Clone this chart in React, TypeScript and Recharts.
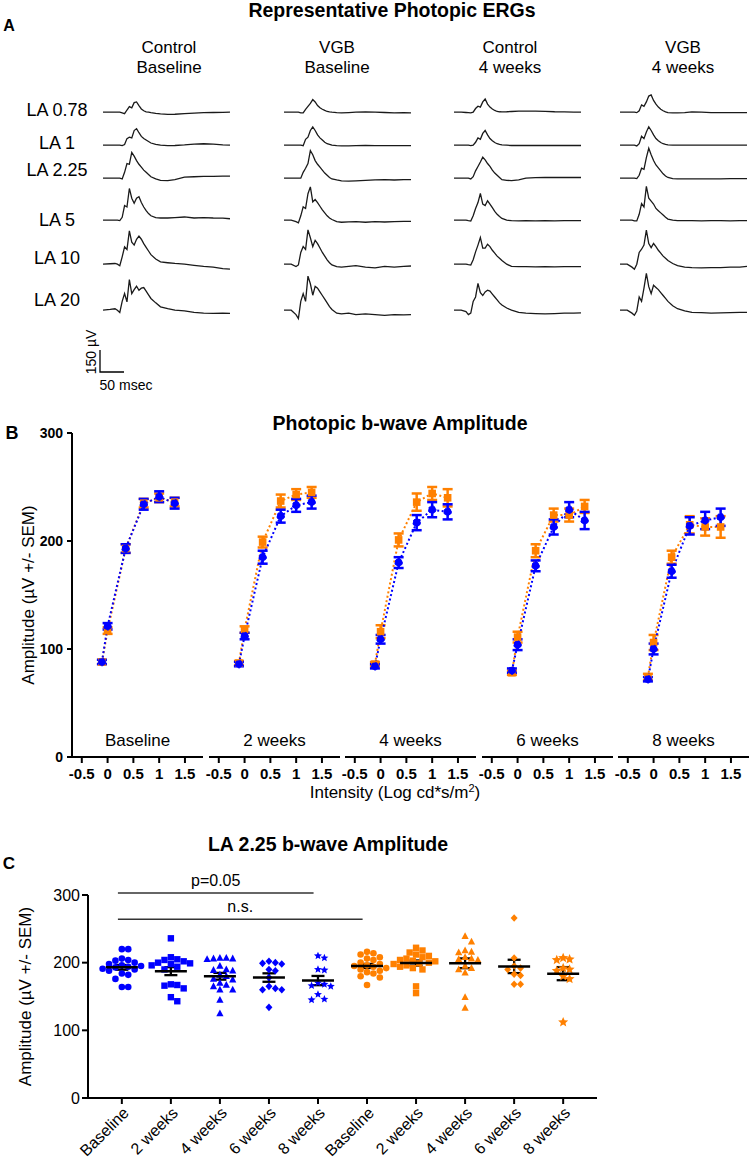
import React from "react";
import {
  LineChart,
  Line,
  ComposedChart,
  Scatter,
  ErrorBar,
  XAxis,
  YAxis,
  ReferenceLine,
} from "recharts";

const BLUE = "#0000ff";
const ORANGE = "#ff8000";
const FONT = "'Liberation Sans', Arial, Helvetica, sans-serif";

// ---------- A: representative photopic ERG traces (µV, time in ms) ----------
const ergColumnTitles = [
  ["Control", "Baseline"],
  ["VGB", "Baseline"],
  ["Control", "4 weeks"],
  ["VGB", "4 weeks"],
];
const flashLabels = ["LA 0.78", "LA 1", "LA 2.25", "LA 5", "LA 10", "LA 20"];
const traceTimes = [0, 15, 25, 30, 35, 40, 45, 50, 55, 60, 65, 70, 75, 80, 85, 90, 95, 100, 110, 120, 135, 150, 170, 190, 210, 230, 250, 265];

const ergControlBaseline = [
  [0, 0, 0, 0, 0, -5, -10, 15, 38, 30, 65, 70, 45, 22, 10, 3, 0, -3, -8, -12, -15, -14, -10, -6, -3, -2, -1, 0],
  [0, 0, 0, 0, 0, -3, 5, 45, 55, 50, 100, 113, 85, 60, 45, 35, 25, 15, 5, 0, -3, -2, 2, 8, 10, 8, 2, 0],
  [0, 0, 0, 0, 0, -5, 40, 100, 95, 175, 150, 120, 95, 75, 55, 40, 25, 10, -5, -15, -16, -10, 8, 10, 12, 12, 14, 14],
  [0, 0, 0, 0, -3, 20, 100, 90, 216, 150, 115, 150, 160, 120, 90, 65, 45, 30, 18, 15, 15, 18, 22, 15, 18, 15, 14, 10],
  [0, 3, 5, 0, -10, 50, 118, 100, 227, 150, 130, 170, 191, 170, 140, 115, 90, 65, 35, 16, 10, 5, 0, -8, -15, -20, -30, -34],
  [0, 5, 10, 0, -15, 60, 113, 57, 209, 113, 140, 163, 136, 150, 154, 130, 105, 80, 50, 23, 10, 0, -5, -15, -20, -22, -20, -22],
];
const ergVgbBaseline = [
  [0, 0, 0, 0, -5, -5, 20, 40, 60, 86, 70, 45, 30, 20, 12, 5, 2, 0, -3, -5, -3, 0, 2, 0, -2, -4, -3, -5],
  [0, 0, 0, 0, 0, -3, 40, 55, 100, 125, 100, 70, 50, 35, 20, 10, 5, 0, -3, -5, -5, -3, -2, -3, -3, -3, -3, -3],
  [0, 0, 0, 0, 0, 40, 68, 100, 188, 160, 120, 95, 75, 55, 35, 20, 5, -5, -12, -18, -20, -18, -15, -12, -10, -12, -10, -10],
  [0, 0, -10, -18, 30, 91, 80, 180, 227, 125, 141, 120, 95, 70, 50, 30, 15, 5, -10, -14, -12, -10, -14, -10, -12, -10, -8, -8],
  [0, 0, -16, -5, 80, 120, 100, 234, 180, 120, 163, 140, 110, 80, 55, 30, 10, -5, -16, -20, -15, -10, -20, -25, -15, -20, -15, -12],
  [0, 0, -30, -57, 60, 113, 60, 232, 180, 102, 163, 150, 125, 100, 75, 50, 25, 5, -20, -25, -20, -30, -25, -30, -35, -30, -32, -30],
];
const ergControl4wk = [
  [0, 0, -2, -3, -5, 0, 25, 41, 35, 70, 90, 55, 35, 22, 12, 5, 3, 2, 3, 5, 8, 8, 8, 6, 3, 2, 0, 0],
  [0, 0, 0, 0, -3, 0, 20, 50, 40, 80, 100, 70, 45, 30, 18, 10, 5, 2, 0, -2, -2, -2, -2, -2, -2, -2, -2, -2],
  [0, 0, 0, 0, -5, 10, 50, 80, 110, 143, 125, 100, 80, 55, 35, 20, 5, -10, -15, -16, -12, 0, 4, 5, 5, 5, 5, 5],
  [0, 0, 0, -3, -5, 30, 80, 120, 182, 110, 100, 132, 110, 85, 60, 40, 25, 12, 0, -3, -5, -3, -5, -3, -5, -3, -3, -3],
  [0, 0, 0, -3, -5, 30, 84, 130, 182, 110, 110, 136, 120, 95, 75, 55, 40, 25, 0, -15, -16, -16, -18, -16, -18, -16, -16, -16],
  [0, 0, -10, -30, -20, 60, 90, 182, 120, 100, 125, 136, 130, 110, 90, 70, 50, 35, 15, 0, -15, -20, -23, -25, -23, -20, -20, -18],
];
const ergVgb4wk = [
  [0, 0, 0, 0, -3, 10, 50, 40, 70, 110, 118, 80, 55, 35, 20, 10, 2, -3, -5, -5, -3, 2, 0, -3, -3, -3, -3, -3],
  [0, 0, 0, 0, -5, 10, 61, 45, 90, 125, 100, 70, 45, 30, 18, 10, 5, 2, 0, 0, 0, 0, 0, 0, 0, 0, 0, 0],
  [0, 0, 0, 0, -3, 20, 68, 60, 140, 204, 160, 120, 90, 70, 50, 30, 15, 5, -3, -5, -5, -5, -5, -5, -5, -3, -3, -3],
  [0, 0, 0, -5, -5, 40, 113, 90, 230, 150, 130, 110, 80, 65, 50, 35, 20, 8, 0, -3, -3, -3, -5, -3, -3, -5, -3, -3],
  [0, 0, -20, -34, 0, 80, 102, 130, 232, 140, 113, 141, 120, 95, 75, 55, 40, 25, 5, -10, -20, -23, -25, -23, -23, -20, -20, -15],
  [0, 0, -20, -34, -5, 90, 60, 150, 250, 160, 113, 170, 155, 140, 120, 100, 80, 60, 30, 10, -5, -15, -16, -20, -18, -16, -15, -15],
];
const ergColumns = [ergControlBaseline, ergVgbBaseline, ergControl4wk, ergVgb4wk];

// ---------- B: photopic b-wave amplitude vs intensity ----------
const intensities = [-0.11, 0, 0.35, 0.7, 1, 1.3];
const timepoints = ["Baseline", "2 weeks", "4 weeks", "6 weeks", "8 weeks"];
const controlAmp = [
  [88, 121, 193, 234, 241, 235],
  [86, 112, 185, 223, 233, 236],
  [84, 109, 180, 217, 229, 227],
  [80, 104, 177, 213, 229, 219],
  [72, 100, 172, 214, 219, 222],
];
const controlSem = [
  [2, 3, 4, 5, 5, 5],
  [2, 3, 6, 6, 6, 6],
  [2, 4, 5, 7, 7, 7],
  [2, 5, 5, 7, 7, 8],
  [2, 5, 6, 8, 8, 8],
];
const vgbAmp = [
  [88, 117, 193, 235, 240, 236],
  [87, 118, 199, 237, 243, 245],
  [86, 116, 201, 236, 244, 240],
  [78, 111, 191, 224, 224, 232],
  [74, 106, 185, 215, 213, 213],
];
const vgbSem = [
  [2, 3, 4, 4, 4, 4],
  [2, 3, 5, 6, 5, 5],
  [2, 6, 6, 8, 6, 8],
  [2, 5, 6, 6, 6, 6],
  [3, 7, 6, 8, 8, 10],
];

// ---------- C: LA 2.25 b-wave amplitude, individual eyes ----------
const groupLabels = ["Baseline", "2 weeks", "4 weeks", "6 weeks", "8 weeks", "Baseline", "2 weeks", "4 weeks", "6 weeks", "8 weeks"];
const ctrlBaseline = [220, 220, 206, 204, 203, 200, 198, 196, 195, 194, 193, 191, 190, 188, 184, 182, 176, 164, 164];
const ctrl2wk = [236, 208, 205, 204, 202, 200, 199, 198, 196, 194, 190, 168, 167, 166, 162, 149, 143];
const ctrl4wk = [207, 207, 206, 206, 205, 195, 190, 189, 188, 182, 180, 176, 175, 170, 167, 165, 160, 160, 145, 125];
const ctrl6wk = [202, 200, 199, 198, 190, 188, 178, 165, 162, 160, 160, 134];
const ctrl8wk = [210, 207, 190, 189, 170, 168, 166, 165, 153, 146, 145];
const vgbBaseline = [216, 214, 212, 208, 206, 204, 200, 198, 196, 195, 194, 192, 190, 188, 186, 184, 180, 178, 167];
const vgb2wk = [222, 218, 215, 212, 210, 208, 206, 204, 203, 202, 200, 199, 198, 196, 194, 192, 190, 165, 155];
const vgb4wk = [239, 231, 218, 216, 215, 208, 206, 205, 204, 195, 192, 190, 185, 149, 133];
const vgb6wk = [266, 207, 195, 192, 190, 183, 181, 168, 168];
const vgb8wk = [207, 205, 204, 192, 190, 188, 180, 176, 112];
const comparisons = [
  { from: 0, to: 4, y: 303, text: "p=0.05" },
  { from: 0, to: 5, y: 264, text: "n.s." },
];

const groups = [
  { vals: ctrlBaseline, color: BLUE, kind: "circle" },
  { vals: ctrl2wk, color: BLUE, kind: "square" },
  { vals: ctrl4wk, color: BLUE, kind: "triangle" },
  { vals: ctrl6wk, color: BLUE, kind: "diamond" },
  { vals: ctrl8wk, color: BLUE, kind: "star" },
  { vals: vgbBaseline, color: ORANGE, kind: "circle" },
  { vals: vgb2wk, color: ORANGE, kind: "square" },
  { vals: vgb4wk, color: ORANGE, kind: "triangle" },
  { vals: vgb6wk, color: ORANGE, kind: "diamond" },
  { vals: vgb8wk, color: ORANGE, kind: "star" },
];

// ---------- helpers ----------
function Txt({ x, y, size, bold, rotate, children }: any) {
  return (
    <div
      style={{
        position: "absolute",
        left: x,
        top: y,
        transform: `translate(-50%, -50%)${rotate ? ` rotate(${rotate}deg)` : ""}`,
        fontSize: size,
        fontWeight: bold ? 700 : 400,
        whiteSpace: "nowrap",
        lineHeight: 1,
      }}
    >
      {children}
    </div>
  );
}

const UV_PX = 0.147; // 150 µV = 22 px
const Y_MIN = -80;
const Y_MAX = 260;
const colLeft = [103, 284, 454, 620];
const colCenter = [169, 337, 510, 683];
const rowBase = [112, 145, 178, 220, 264, 310];
const rowLabelY = [110, 143, 170, 220, 258, 300];

function ErgTrace({ values, left, base }: { values: number[]; left: number; base: number }) {
  const data = traceTimes.map((t, i) => ({ t, v: values[i] }));
  return (
    <div style={{ position: "absolute", left, top: base - Y_MAX * UV_PX }}>
      <LineChart width={127} height={(Y_MAX - Y_MIN) * UV_PX} data={data} margin={{ top: 0, right: 0, bottom: 0, left: 0 }}>
        <XAxis dataKey="t" type="number" domain={[0, 265]} hide />
        <YAxis type="number" domain={[Y_MIN, Y_MAX]} hide allowDataOverflow />
        <Line type="linear" dataKey="v" stroke="#1a1a1a" strokeWidth={1.3} dot={false} isAnimationActive={false} />
      </LineChart>
    </div>
  );
}

const squareDot = (p: any) => (
  <rect key={`sq-${p.index}`} x={p.cx - 3.8} y={p.cy - 3.8} width={7.6} height={7.6} fill={ORANGE} />
);

const PAD = 14; // room for tick labels that hang past the plot edge

function AmpPanel({ idx }: { idx: number }) {
  const first = idx === 0;
  const data = intensities.map((x, i) => ({
    x,
    ctrl: controlAmp[idx][i],
    ctrlErr: controlSem[idx][i],
    vgb: vgbAmp[idx][i],
    vgbErr: vgbSem[idx][i],
  }));
  const plotLeft = 72 + idx * 136.5;
  return (
    <div style={{ position: "absolute", left: first ? 0 : plotLeft - PAD, top: 423 }}>
      <ComposedChart
        width={(first ? 72 : PAD) + 131 + PAD}
        height={364}
        data={data}
        margin={{ top: 10, right: PAD, bottom: 0, left: first ? 0 : PAD }}
      >
        <XAxis
          dataKey="x"
          type="number"
          domain={[-0.69, 1.85]}
          ticks={[-0.5, 0, 0.5, 1, 1.5]}
          interval={0}
          height={30}
          axisLine={{ stroke: "#000", strokeWidth: 2 }}
          tickLine={{ stroke: "#000", strokeWidth: 2 }}
          tickSize={6}
          tickMargin={5}
          tick={{ fill: "#000", fontSize: 15, fontWeight: 700 }}
          label={{ value: timepoints[idx], position: "top", offset: 11, fill: "#000", fontSize: 17 }}
        />
        <YAxis
          type="number"
          domain={[0, 300]}
          ticks={[0, 100, 200, 300]}
          hide={!first}
          width={72}
          axisLine={{ stroke: "#000", strokeWidth: 2 }}
          tickLine={{ stroke: "#000", strokeWidth: 2 }}
          tickSize={5}
          tickMargin={4}
          tick={{ fill: "#000", fontSize: 14, fontWeight: 700 }}
          label={{
            value: "Amplitude (µV +/- SEM)",
            angle: -90,
            position: "insideLeft",
            offset: 28,
            fill: "#000",
            fontSize: 17,
            style: { textAnchor: "middle" },
          }}
        />
        <Line dataKey="vgb" stroke={ORANGE} strokeWidth={2} strokeDasharray="2 2.5" dot={squareDot} activeDot={false} isAnimationActive={false}>
          <ErrorBar dataKey="vgbErr" width={5} strokeWidth={2.5} stroke={ORANGE} direction="y" />
        </Line>
        <Line dataKey="ctrl" stroke={BLUE} strokeWidth={2} strokeDasharray="2 2.5" dot={{ r: 3.8, fill: BLUE, stroke: BLUE, strokeWidth: 1 }} activeDot={false} isAnimationActive={false}>
          <ErrorBar dataKey="ctrlErr" width={5} strokeWidth={2.5} stroke={BLUE} direction="y" />
        </Line>
      </ComposedChart>
    </div>
  );
}

function starPoints(cx: number, cy: number, r: number) {
  const pts: string[] = [];
  for (let i = 0; i < 10; i++) {
    const rad = i % 2 === 0 ? r : r * 0.45;
    const a = -Math.PI / 2 + (i * Math.PI) / 5;
    pts.push(`${cx + rad * Math.cos(a)},${cy + rad * Math.sin(a)}`);
  }
  return pts.join(" ");
}

function markerShape(kind: string, color: string) {
  return (p: any) => {
    const { cx, cy } = p;
    if (kind === "circle") return <circle cx={cx} cy={cy} r={3.3} fill={color} />;
    if (kind === "square") return <rect x={cx - 3.2} y={cy - 3.2} width={6.4} height={6.4} fill={color} />;
    if (kind === "triangle")
      return <polygon points={`${cx},${cy - 4} ${cx + 3.6},${cy + 2.8} ${cx - 3.6},${cy + 2.8}`} fill={color} />;
    if (kind === "diamond")
      return <polygon points={`${cx},${cy - 3.8} ${cx + 3.5},${cy} ${cx},${cy + 3.8} ${cx - 3.5},${cy}`} fill={color} />;
    return <polygon points={starPoints(cx, cy, color === ORANGE ? 5.3 : 4.2)} fill={color} />;
  };
}

// lay points of one group out side by side so that they do not overlap
function swarm(vals: number[], g: number) {
  const D = 6.4;
  const placed: { x: number; y: number }[] = [];
  const out: { x: number; y: number }[] = [];
  [...vals]
    .sort((a, b) => b - a)
    .forEach((v) => {
      const yp = v * 0.677;
      let off = 0;
      for (let k = 0; k < 60; k++) {
        const c = (k % 2 ? 1 : -1) * Math.ceil(k / 2) * (D / 2);
        if (placed.every((p) => (p.x - c) ** 2 + (p.y - yp) ** 2 >= D * D)) {
          off = c;
          break;
        }
      }
      placed.push({ x: off, y: yp });
      out.push({ x: g + off / 49, y: v });
    });
  return out;
}

function meanOf(v: number[]) {
  return v.reduce((s, a) => s + a, 0) / v.length;
}
function semOf(v: number[]) {
  const m = meanOf(v);
  const sd = Math.sqrt(v.reduce((s, a) => s + (a - m) ** 2, 0) / (v.length - 1));
  return sd / Math.sqrt(v.length);
}

const meanShape = (p: any) => (
  <line x1={p.cx - 16} x2={p.cx + 16} y1={p.cy} y2={p.cy} stroke="#000" strokeWidth={2.5} />
);

function RotatedTick(p: any) {
  const { x, y, payload } = p;
  const ax = x + 4;
  const ay = y + 4;
  return (
    <text x={ax} y={ay} dy="0.35em" transform={`rotate(-45, ${ax}, ${ay})`} textAnchor="end" fontSize={16} fill="#000">
      {groupLabels[payload.value]}
    </text>
  );
}

function SwarmPanel() {
  const means = groups.map((g, gi) => ({ x: gi, y: meanOf(g.vals), sem: semOf(g.vals) }));
  return (
    <div style={{ position: "absolute", left: 0, top: 855 }}>
      <ComposedChart width={610} height={310} margin={{ top: 40, right: 13, bottom: 0, left: 0 }}>
        <XAxis
          type="number"
          dataKey="x"
          domain={[-0.69, 9.69]}
          ticks={[0, 1, 2, 3, 4, 5, 6, 7, 8, 9]}
          interval={0}
          height={67}
          axisLine={{ stroke: "#000", strokeWidth: 2 }}
          tickLine={{ stroke: "#000", strokeWidth: 2 }}
          tickSize={6}
          tick={(p: any) => <RotatedTick {...p} />}
        />
        <YAxis
          type="number"
          dataKey="y"
          domain={[0, 300]}
          ticks={[0, 100, 200, 300]}
          width={88}
          axisLine={{ stroke: "#000", strokeWidth: 2 }}
          tickLine={{ stroke: "#000", strokeWidth: 2 }}
          tickSize={6}
          tick={{ fill: "#000", fontSize: 16 }}
          label={{
            value: "Amplitude (µV +/- SEM)",
            angle: -90,
            position: "insideLeft",
            offset: 25,
            fill: "#000",
            fontSize: 17,
            style: { textAnchor: "middle" },
          }}
        />
        {comparisons.map((c, i) => (
          <ReferenceLine
            key={`cmp-${i}`}
            segment={[
              { x: c.from - 0.08, y: c.y },
              { x: c.to - 0.09, y: c.y },
            ]}
            stroke="#333"
            strokeWidth={1.5}
            ifOverflow="visible"
            label={{ value: c.text, position: "top", offset: 7, fill: "#000", fontSize: 16 }}
          />
        ))}
        {groups.map((g, gi) => (
          <Scatter key={`g-${gi}`} data={swarm(g.vals, gi)} shape={markerShape(g.kind, g.color)} isAnimationActive={false} />
        ))}
        <Scatter data={means} shape={meanShape} isAnimationActive={false}>
          <ErrorBar dataKey="sem" direction="y" width={6.5} stroke="#000" strokeWidth={2.3} />
        </Scatter>
      </ComposedChart>
    </div>
  );
}

export default function App() {
  return (
    <div
      style={{
        position: "absolute",
        left: 0,
        top: 0,
        width: 750,
        height: 1165,
        background: "#fff",
        fontFamily: FONT,
        color: "#000",
        overflow: "hidden",
      }}
    >
      {/* A */}
      <Txt x={392} y={11} size={19.5} bold>
        Representative Photopic ERGs
      </Txt>
      <Txt x={9} y={26} size={16} bold>
        A
      </Txt>
      {ergColumnTitles.map((t, c) => (
        <React.Fragment key={`h-${c}`}>
          <Txt x={colCenter[c]} y={47} size={17}>
            {t[0]}
          </Txt>
          <Txt x={colCenter[c]} y={67} size={17}>
            {t[1]}
          </Txt>
        </React.Fragment>
      ))}
      {flashLabels.map((l, r) => (
        <Txt key={`r-${r}`} x={57} y={rowLabelY[r]} size={18}>
          {l}
        </Txt>
      ))}
      {ergColumns.map((col, c) =>
        col.map((vals, r) => <ErgTrace key={`t-${c}-${r}`} values={vals} left={colLeft[c]} base={rowBase[r]} />)
      )}
      <svg style={{ position: "absolute", left: 95, top: 345 }} width={35} height={32}>
        <path d="M5 5 V27 H29" stroke="#000" strokeWidth={1.3} fill="none" />
      </svg>
      <Txt x={91} y={352} size={14} rotate={-90}>
        150 µV
      </Txt>
      <Txt x={126} y={385} size={14}>
        50 msec
      </Txt>

      {/* B */}
      <Txt x={400} y={424} size={19.5} bold>
        Photopic b-wave Amplitude
      </Txt>
      <Txt x={12} y={433} size={18} bold>
        B
      </Txt>
      {timepoints.map((_, i) => (
        <AmpPanel key={`b-${i}`} idx={i} />
      ))}
      <Txt x={395} y={792} size={17}>
        Intensity (Log cd*s/m<sup style={{ fontSize: 11 }}>2</sup>)
      </Txt>

      {/* C */}
      <Txt x={328} y={845} size={19.5} bold>
        LA 2.25 b-wave Amplitude
      </Txt>
      <Txt x={9} y={863} size={17} bold>
        C
      </Txt>
      <SwarmPanel />
    </div>
  );
}
